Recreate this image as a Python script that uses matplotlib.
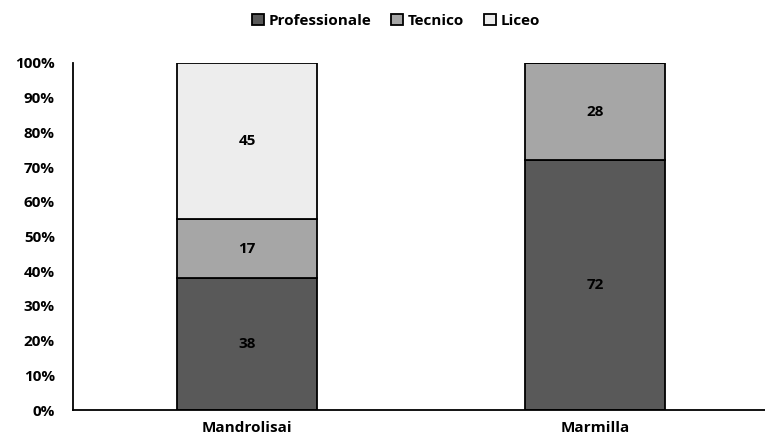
import matplotlib.pyplot as plt
import numpy as np

areas = ["Mandrolisai", "Marmilla"]
series = ["Professionale", "Tecnico", "Liceo"]
professionale = [38, 72]
tecnico = [17, 28]
liceo = [45, 0]
colors = ["#595959", "#a6a6a6", "#ededed"]

plt.rcParams['font.family'] = ['Open Sans', 'DejaVu Sans']
plt.rcParams['font.weight'] = 'bold'

fig = plt.figure(figsize=(7.65, 4.46), dpi=100)
ax = fig.add_axes([73 / 765, 1 - 410 / 446, 696 / 765, 347 / 446])

x = np.arange(len(areas))
bottom = np.zeros(len(areas))
for name, vals, col in zip(series, [professionale, tecnico, liceo], colors):
    vals = np.array(vals, dtype=float)
    ax.bar(x, vals, 0.4, bottom=bottom, color=col, edgecolor="black",
           linewidth=1.3, label=name)
    for xi, b, v in zip(x, bottom, vals):
        if v > 0:
            ax.text(xi, b + v / 2, f"{v:.0f}", ha="center", va="center",
                    fontsize=11, fontweight="bold", color="black")
    bottom += vals

ax.set_xlim(-0.5, 1.5)
ax.set_ylim(0, 100)
ax.set_yticks(np.arange(0, 101, 10))
ax.set_yticklabels([f"{v}%" for v in range(0, 101, 10)], fontsize=11, fontweight="bold")
ax.set_xticks(x)
ax.set_xticklabels(areas, fontsize=11, fontweight="bold")
ax.tick_params(length=0, pad=8)
ax.tick_params(axis="y", pad=13)
for s in ["top", "right"]:
    ax.spines[s].set_visible(False)
for s in ["left", "bottom"]:
    ax.spines[s].set_linewidth(1.3)
    ax.spines[s].set_color("black")

fig.legend(loc="upper center", bbox_to_anchor=(396 / 765, 1.0), ncol=3,
           frameon=False, fontsize=11, handlelength=0.8, handleheight=0.8,
           handletextpad=0.3, columnspacing=1.3)

fig.savefig("out.png", dpi=100)
